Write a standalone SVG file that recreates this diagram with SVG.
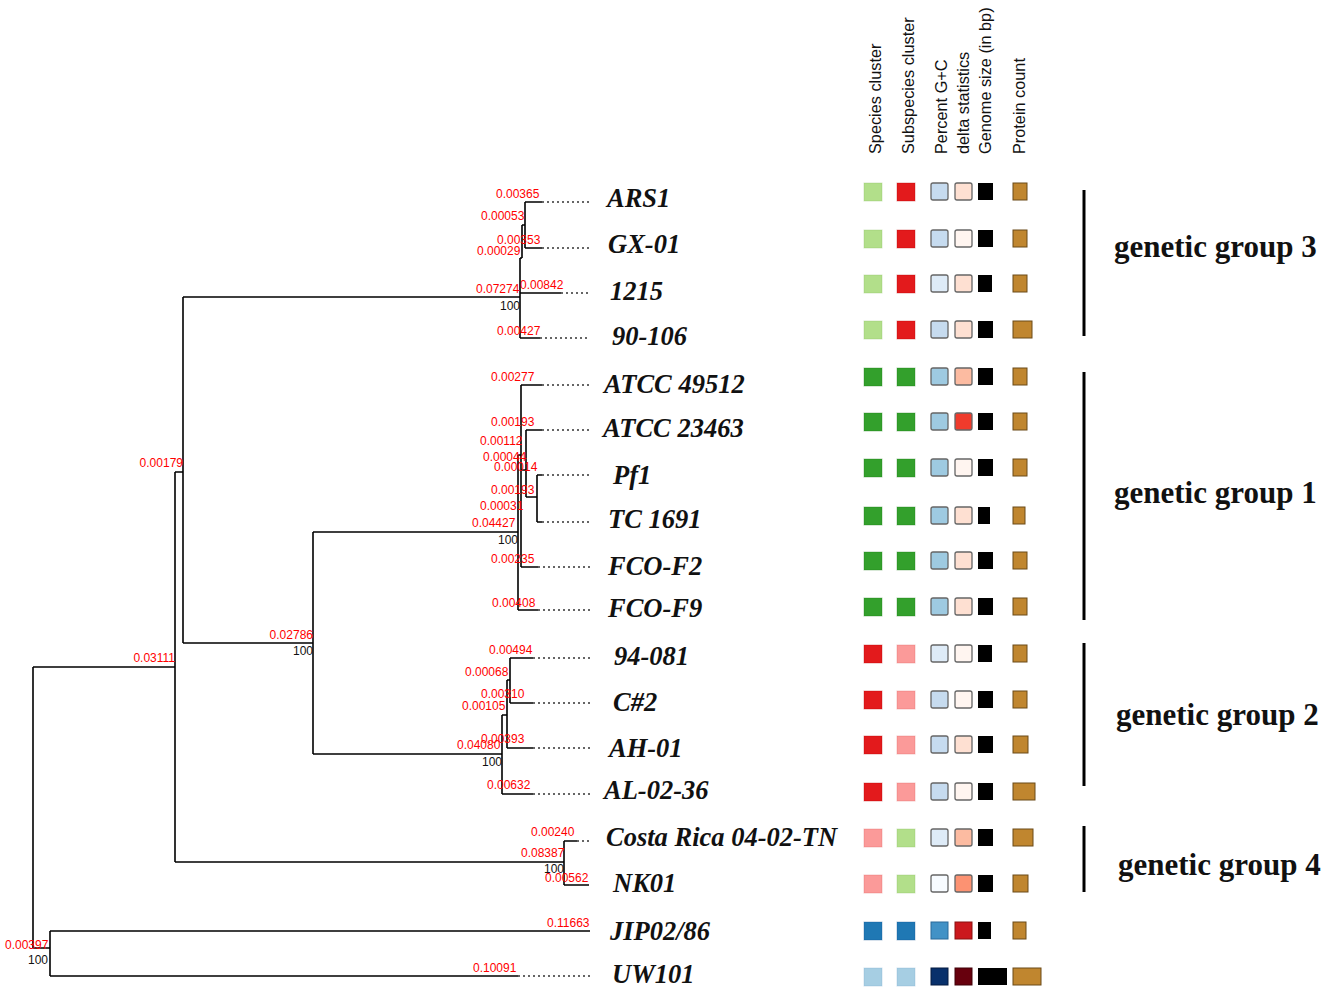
<svg xmlns="http://www.w3.org/2000/svg" width="1325" height="995" viewBox="0 0 1325 995">
<style>
.br{fill:none;stroke:#000;stroke-width:1.6}
.dt{fill:none;stroke:#333;stroke-width:1.6;stroke-dasharray:2,3}
.bl{font-family:"Liberation Sans",Arial,sans-serif;font-size:12px;fill:#ff0000}
.bs{font-family:"Liberation Sans",Arial,sans-serif;font-size:12px;fill:#111}
.nm{font-family:"Liberation Serif","Times New Roman",serif;font-size:26.5px;font-weight:bold;font-style:italic;fill:#111}
.gg{font-family:"Liberation Serif","Times New Roman",serif;font-size:31px;font-weight:bold;fill:#111}
.hd{font-family:"Liberation Sans",Arial,sans-serif;font-size:16.3px;fill:#111}
.sp{stroke-width:1;stroke-opacity:0.35}
.sq{stroke:#666;stroke-width:1.3}
.gs{fill:#000}
.pc{fill:#c0862f;stroke:#6b4a18;stroke-width:1}
.bar{stroke:#000;stroke-width:3}
</style>
<rect width="1325" height="995" fill="#fff"/>
<g id="connectors">
<path class="br" d="M33,667 H175 M33,667 V948 M33,948 H50 M50,931 V976 M50,931 H590 M50,976 H518
M175,472 H183 M175,472 V862 M175,862 H564 M564,841 V885 M564,841 H577 M564,885 H589
M183,297 V643 M183,643 H313 M313,532 V754
M183,297 H520 M520,258 V338 M520,258 H522 M522,225 V258 M522,225 H525 M525,202 V248 M525,202 H542 M525,248 H542 M520,293 H561 M520,338 H540
M313,532 H518 M518,455 V610 M518,455 H521 M521,385 V567 M521,385 H542 M521,567 H538 M518,610 H538 M521,470 H526 M526,430 V497 M526,430 H542 M526,497 H537 M537,475 V522 M537,475 H542 M537,522 H542
M313,754 H502 M502,715 V794 M502,715 H507 M507,680 V748 M507,680 H510 M510,658 V703 M510,658 H533 M510,703 H533 M507,748 H533 M502,794 H533"/>
<path class="dt" d="M542,202 H590 M542,248 H590 M561,293 H590 M540,338 H590
M542,385 H590 M542,430 H590 M542,475 H590 M542,522 H590 M538,567 H590 M538,610 H590
M533,658 H590 M533,703 H590 M533,748 H590 M533,794 H590 M577,841 H590 M518,976 H590"/>
</g>
<g id="branch-labels">
<text class="bl" x="496" y="198">0.00365</text>
<text class="bl" x="481" y="220">0.00053</text>
<text class="bl" x="497" y="244">0.00353</text>
<text class="bl" x="477" y="255">0.00029</text>
<text class="bl" x="476" y="293">0.07274</text>
<text class="bl" x="520" y="289">0.00842</text>
<text class="bs" x="500" y="310">100</text>
<text class="bl" x="497" y="335">0.00427</text>
<text class="bl" x="491" y="381">0.00277</text>
<text class="bl" x="491" y="426">0.00193</text>
<text class="bl" x="480" y="445">0.00112</text>
<text class="bl" x="483" y="461">0.00044</text>
<text class="bl" x="494" y="471">0.00014</text>
<text class="bl" x="491" y="494">0.00193</text>
<text class="bl" x="480" y="510">0.00031</text>
<text class="bl" x="472" y="527">0.04427</text>
<text class="bs" x="498" y="544">100</text>
<text class="bl" x="491" y="563">0.00235</text>
<text class="bl" x="492" y="607">0.00408</text>
<text class="bl" x="489" y="654">0.00494</text>
<text class="bl" x="465" y="676">0.00068</text>
<text class="bl" x="481" y="698">0.00310</text>
<text class="bl" x="462" y="710">0.00105</text>
<text class="bl" x="481" y="743">0.00393</text>
<text class="bl" x="457" y="749">0.04080</text>
<text class="bs" x="482" y="766">100</text>
<text class="bl" x="487" y="789">0.00632</text>
<text class="bl" x="531" y="836">0.00240</text>
<text class="bl" x="521" y="857">0.08387</text>
<text class="bs" x="544" y="873">100</text>
<text class="bl" x="545" y="882">0.00562</text>
<text class="bl" x="183" y="467" text-anchor="end">0.00179</text>
<text class="bl" x="313" y="639" text-anchor="end">0.02786</text>
<text class="bs" x="313" y="655" text-anchor="end">100</text>
<text class="bl" x="175" y="662" text-anchor="end">0.03111</text>
<text class="bl" x="5" y="949">0.00397</text>
<text class="bs" x="28" y="964">100</text>
<text class="bl" x="547" y="927">0.11663</text>
<text class="bl" x="473" y="972">0.10091</text>
</g>
<g id="headers">
<text class="hd" transform="translate(881,154) rotate(-90)">Species cluster</text>
<text class="hd" transform="translate(914,154) rotate(-90)">Subspecies cluster</text>
<text class="hd" transform="translate(947,154) rotate(-90)">Percent G+C</text>
<text class="hd" transform="translate(969,154) rotate(-90)">delta statistics</text>
<text class="hd" transform="translate(991,154) rotate(-90)">Genome size (in bp)</text>
<text class="hd" transform="translate(1025,154) rotate(-90)">Protein count</text>
</g>
<g id="leaf-ARS1"><text class="nm" x="607" y="207">ARS1</text>
<rect x="864" y="183" width="18" height="18" fill="#b2df8a" stroke="#8cc060" class="sp"/><rect x="897" y="183" width="18" height="18" fill="#e31a1c" stroke="#b00" class="sp"/><rect x="931" y="183" width="17" height="17" rx="2" fill="#c6dbef" class="sq"/><rect x="955" y="183" width="17" height="17" rx="2" fill="#fee0d2" class="sq"/><rect x="978" y="183" width="15" height="17" class="gs"/><rect x="1013" y="183" width="14" height="17" class="pc"/></g>
<g id="leaf-GX-01"><text class="nm" x="608" y="253">GX-01</text>
<rect x="864" y="230" width="18" height="18" fill="#b2df8a" stroke="#8cc060" class="sp"/><rect x="897" y="230" width="18" height="18" fill="#e31a1c" stroke="#b00" class="sp"/><rect x="931" y="230" width="17" height="17" rx="2" fill="#c6dbef" class="sq"/><rect x="955" y="230" width="17" height="17" rx="2" fill="#fff5f0" class="sq"/><rect x="978" y="230" width="15" height="17" class="gs"/><rect x="1013" y="230" width="14" height="17" class="pc"/></g>
<g id="leaf-1215"><text class="nm" x="610" y="300">1215</text>
<rect x="864" y="275" width="18" height="18" fill="#b2df8a" stroke="#8cc060" class="sp"/><rect x="897" y="275" width="18" height="18" fill="#e31a1c" stroke="#b00" class="sp"/><rect x="931" y="275" width="17" height="17" rx="2" fill="#deebf7" class="sq"/><rect x="955" y="275" width="17" height="17" rx="2" fill="#fee0d2" class="sq"/><rect x="978" y="275" width="14" height="17" class="gs"/><rect x="1013" y="275" width="14" height="17" class="pc"/></g>
<g id="leaf-90-106"><text class="nm" x="612" y="345">90-106</text>
<rect x="864" y="321" width="18" height="18" fill="#b2df8a" stroke="#8cc060" class="sp"/><rect x="897" y="321" width="18" height="18" fill="#e31a1c" stroke="#b00" class="sp"/><rect x="931" y="321" width="17" height="17" rx="2" fill="#c6dbef" class="sq"/><rect x="955" y="321" width="17" height="17" rx="2" fill="#fee0d2" class="sq"/><rect x="978" y="321" width="15" height="17" class="gs"/><rect x="1013" y="321" width="19" height="17" class="pc"/></g>
<g id="leaf-ATCC49512"><text class="nm" x="604" y="393">ATCC 49512</text>
<rect x="864" y="368" width="18" height="18" fill="#33a02c" stroke="#1a7a14" class="sp"/><rect x="897" y="368" width="18" height="18" fill="#33a02c" stroke="#1a7a14" class="sp"/><rect x="931" y="368" width="17" height="17" rx="2" fill="#9ecae1" class="sq"/><rect x="955" y="368" width="17" height="17" rx="2" fill="#fcbba1" class="sq"/><rect x="978" y="368" width="15" height="17" class="gs"/><rect x="1013" y="368" width="14" height="17" class="pc"/></g>
<g id="leaf-ATCC23463"><text class="nm" x="603" y="437">ATCC 23463</text>
<rect x="864" y="413" width="18" height="18" fill="#33a02c" stroke="#1a7a14" class="sp"/><rect x="897" y="413" width="18" height="18" fill="#33a02c" stroke="#1a7a14" class="sp"/><rect x="931" y="413" width="17" height="17" rx="2" fill="#9ecae1" class="sq"/><rect x="955" y="413" width="17" height="17" rx="2" fill="#ef3b2c" class="sq"/><rect x="978" y="413" width="15" height="17" class="gs"/><rect x="1013" y="413" width="14" height="17" class="pc"/></g>
<g id="leaf-Pf1"><text class="nm" x="613" y="484">Pf1</text>
<rect x="864" y="459" width="18" height="18" fill="#33a02c" stroke="#1a7a14" class="sp"/><rect x="897" y="459" width="18" height="18" fill="#33a02c" stroke="#1a7a14" class="sp"/><rect x="931" y="459" width="17" height="17" rx="2" fill="#9ecae1" class="sq"/><rect x="955" y="459" width="17" height="17" rx="2" fill="#fff5f0" class="sq"/><rect x="978" y="459" width="15" height="17" class="gs"/><rect x="1013" y="459" width="14" height="17" class="pc"/></g>
<g id="leaf-TC1691"><text class="nm" x="608" y="528">TC 1691</text>
<rect x="864" y="507" width="18" height="18" fill="#33a02c" stroke="#1a7a14" class="sp"/><rect x="897" y="507" width="18" height="18" fill="#33a02c" stroke="#1a7a14" class="sp"/><rect x="931" y="507" width="17" height="17" rx="2" fill="#9ecae1" class="sq"/><rect x="955" y="507" width="17" height="17" rx="2" fill="#fee0d2" class="sq"/><rect x="978" y="507" width="12" height="17" class="gs"/><rect x="1013" y="507" width="12" height="17" class="pc"/></g>
<g id="leaf-FCO-F2"><text class="nm" x="608" y="575">FCO-F2</text>
<rect x="864" y="552" width="18" height="18" fill="#33a02c" stroke="#1a7a14" class="sp"/><rect x="897" y="552" width="18" height="18" fill="#33a02c" stroke="#1a7a14" class="sp"/><rect x="931" y="552" width="17" height="17" rx="2" fill="#9ecae1" class="sq"/><rect x="955" y="552" width="17" height="17" rx="2" fill="#fee0d2" class="sq"/><rect x="978" y="552" width="15" height="17" class="gs"/><rect x="1013" y="552" width="14" height="17" class="pc"/></g>
<g id="leaf-FCO-F9"><text class="nm" x="608" y="617">FCO-F9</text>
<rect x="864" y="598" width="18" height="18" fill="#33a02c" stroke="#1a7a14" class="sp"/><rect x="897" y="598" width="18" height="18" fill="#33a02c" stroke="#1a7a14" class="sp"/><rect x="931" y="598" width="17" height="17" rx="2" fill="#9ecae1" class="sq"/><rect x="955" y="598" width="17" height="17" rx="2" fill="#fee0d2" class="sq"/><rect x="978" y="598" width="15" height="17" class="gs"/><rect x="1013" y="598" width="14" height="17" class="pc"/></g>
<g id="leaf-94-081"><text class="nm" x="614" y="665">94-081</text>
<rect x="864" y="645" width="18" height="18" fill="#e31a1c" stroke="#b00" class="sp"/><rect x="897" y="645" width="18" height="18" fill="#fb9a99" stroke="#e06060" class="sp"/><rect x="931" y="645" width="17" height="17" rx="2" fill="#deebf7" class="sq"/><rect x="955" y="645" width="17" height="17" rx="2" fill="#fff5f0" class="sq"/><rect x="978" y="645" width="14" height="17" class="gs"/><rect x="1013" y="645" width="14" height="17" class="pc"/></g>
<g id="leaf-C2"><text class="nm" x="613" y="711">C#2</text>
<rect x="864" y="691" width="18" height="18" fill="#e31a1c" stroke="#b00" class="sp"/><rect x="897" y="691" width="18" height="18" fill="#fb9a99" stroke="#e06060" class="sp"/><rect x="931" y="691" width="17" height="17" rx="2" fill="#c6dbef" class="sq"/><rect x="955" y="691" width="17" height="17" rx="2" fill="#fff5f0" class="sq"/><rect x="978" y="691" width="15" height="17" class="gs"/><rect x="1013" y="691" width="14" height="17" class="pc"/></g>
<g id="leaf-AH-01"><text class="nm" x="609" y="757">AH-01</text>
<rect x="864" y="736" width="18" height="18" fill="#e31a1c" stroke="#b00" class="sp"/><rect x="897" y="736" width="18" height="18" fill="#fb9a99" stroke="#e06060" class="sp"/><rect x="931" y="736" width="17" height="17" rx="2" fill="#c6dbef" class="sq"/><rect x="955" y="736" width="17" height="17" rx="2" fill="#fee0d2" class="sq"/><rect x="978" y="736" width="15" height="17" class="gs"/><rect x="1013" y="736" width="15" height="17" class="pc"/></g>
<g id="leaf-AL-02-36"><text class="nm" x="604" y="799">AL-02-36</text>
<rect x="864" y="783" width="18" height="18" fill="#e31a1c" stroke="#b00" class="sp"/><rect x="897" y="783" width="18" height="18" fill="#fb9a99" stroke="#e06060" class="sp"/><rect x="931" y="783" width="17" height="17" rx="2" fill="#c6dbef" class="sq"/><rect x="955" y="783" width="17" height="17" rx="2" fill="#fff5f0" class="sq"/><rect x="978" y="783" width="15" height="17" class="gs"/><rect x="1013" y="783" width="22" height="17" class="pc"/></g>
<g id="leaf-CostaRica"><text class="nm" x="606" y="846">Costa Rica 04-02-TN</text>
<rect x="864" y="829" width="18" height="18" fill="#fb9a99" stroke="#e06060" class="sp"/><rect x="897" y="829" width="18" height="18" fill="#b2df8a" stroke="#8cc060" class="sp"/><rect x="931" y="829" width="17" height="17" rx="2" fill="#deebf7" class="sq"/><rect x="955" y="829" width="17" height="17" rx="2" fill="#fcbba1" class="sq"/><rect x="978" y="829" width="15" height="17" class="gs"/><rect x="1013" y="829" width="20" height="17" class="pc"/></g>
<g id="leaf-NK01"><text class="nm" x="613" y="892">NK01</text>
<rect x="864" y="875" width="18" height="18" fill="#fb9a99" stroke="#e06060" class="sp"/><rect x="897" y="875" width="18" height="18" fill="#b2df8a" stroke="#8cc060" class="sp"/><rect x="931" y="875" width="17" height="17" rx="2" fill="#f7fbff" class="sq"/><rect x="955" y="875" width="17" height="17" rx="2" fill="#fc9272" class="sq"/><rect x="978" y="875" width="15" height="17" class="gs"/><rect x="1013" y="875" width="15" height="17" class="pc"/></g>
<g id="leaf-JIP02-86"><text class="nm" x="610" y="940">JIP02/86</text>
<rect x="864" y="922" width="18" height="18" fill="#1f78b4" stroke="#105090" class="sp"/><rect x="897" y="922" width="18" height="18" fill="#1f78b4" stroke="#105090" class="sp"/><rect x="931" y="922" width="17" height="17" fill="#4292c6" stroke="#2a6a9a" stroke-width="1"/><rect x="955" y="922" width="17" height="17" fill="#cb181d" stroke="#8a1010" stroke-width="1"/><rect x="978" y="922" width="13" height="17" class="gs"/><rect x="1013" y="922" width="13" height="17" class="pc"/></g>
<g id="leaf-UW101"><text class="nm" x="612" y="983">UW101</text>
<rect x="864" y="968" width="18" height="18" fill="#a6cee3" stroke="#80b0d0" class="sp"/><rect x="897" y="968" width="18" height="18" fill="#a6cee3" stroke="#80b0d0" class="sp"/><rect x="931" y="968" width="17" height="17" fill="#08306b" stroke="#041a40" stroke-width="1"/><rect x="955" y="968" width="17" height="17" fill="#67000d" stroke="#400008" stroke-width="1"/><rect x="978" y="968" width="29" height="17" class="gs"/><rect x="1013" y="968" width="28" height="17" class="pc"/></g>
<g id="group-3"><line class="bar" x1="1084" y1="190" x2="1084" y2="336"/><text class="gg" x="1114" y="257">genetic group 3</text></g>
<g id="group-1"><line class="bar" x1="1084" y1="372" x2="1084" y2="620"/><text class="gg" x="1114" y="503">genetic group 1</text></g>
<g id="group-2"><line class="bar" x1="1084" y1="643" x2="1084" y2="786"/><text class="gg" x="1116" y="725">genetic group 2</text></g>
<g id="group-4"><line class="bar" x1="1084" y1="826" x2="1084" y2="892"/><text class="gg" x="1118" y="875">genetic group 4</text></g>
</svg>
